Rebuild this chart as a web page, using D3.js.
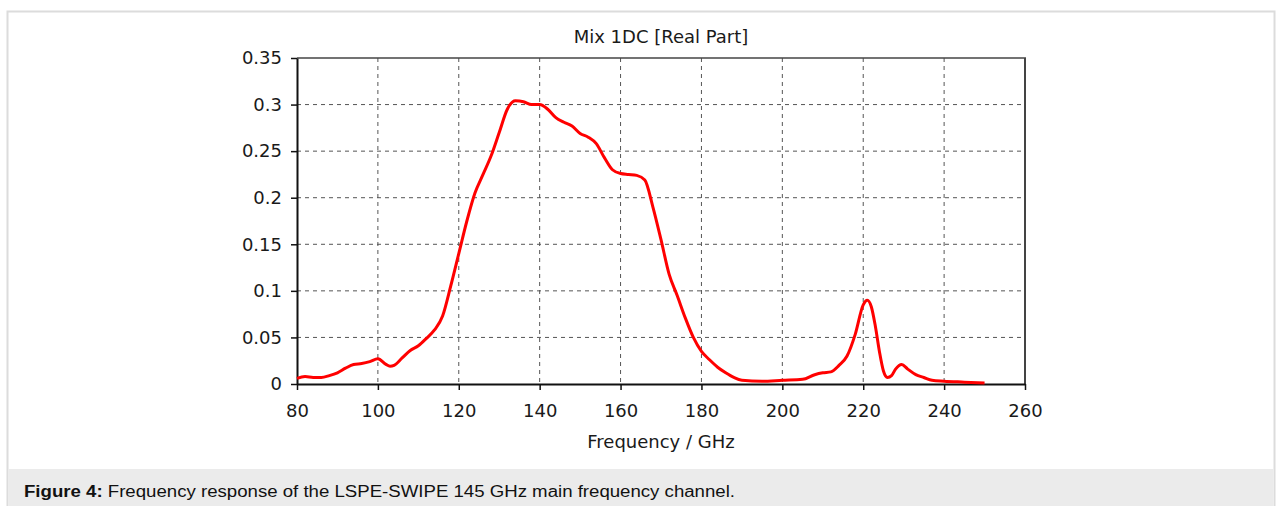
<!DOCTYPE html>
<html>
<head>
<meta charset="utf-8">
<script src="https://cdn.jsdelivr.net/npm/d3@7"></script>
<style>
  body { margin: 0; background: #fff; }
  svg { display: block; }
</style>
</head>
<body>
<script>
// chart data
var freq = [80, 82, 84, 86, 88, 90, 92, 94, 96, 98, 100, 102, 103, 104, 106, 108, 110, 112, 114, 116,
	118, 120, 122, 124, 126, 128, 130, 132, 134, 136, 138, 140, 142, 144, 146, 148, 150, 152, 154, 156,
	158, 160, 162, 164, 166, 168, 170, 172, 174, 176, 178, 180, 182, 184, 186, 188, 190, 195, 200, 205,
	208, 210, 212, 214, 216, 218, 220, 221, 222, 223, 224, 225, 226, 227, 228, 229.5, 231, 233, 235, 237,
	240, 245, 250];
var response = [0.006, 0.008, 0.007, 0.007, 0.009, 0.012, 0.017, 0.021, 0.022, 0.024, 0.027, 0.021, 0.019, 0.020, 0.028, 0.036, 0.041, 0.049, 0.058, 0.073,
	0.105, 0.140, 0.175, 0.205, 0.225, 0.245, 0.270, 0.295, 0.304, 0.303, 0.300, 0.300, 0.295, 0.286, 0.281, 0.277, 0.269, 0.265, 0.258, 0.243,
	0.230, 0.226, 0.225, 0.224, 0.219, 0.190, 0.155, 0.118, 0.095, 0.071, 0.050, 0.035, 0.026, 0.018, 0.012, 0.007, 0.004, 0.003, 0.004, 0.005,
	0.010, 0.012, 0.013, 0.020, 0.030, 0.053, 0.085, 0.090, 0.083, 0.062, 0.035, 0.014, 0.007, 0.009, 0.016, 0.021, 0.016, 0.010, 0.007, 0.004,
	0.003, 0.002, 0.001];
var xTicks = [80, 100, 120, 140, 160, 180, 200, 220, 240, 260];
var yTicks = [0, 0.05, 0.1, 0.15, 0.2, 0.25, 0.3, 0.35];
var yTickLabels = ["0", "0.05", "0.1", "0.15", "0.2", "0.25", "0.3", "0.35"];
var title = "Mix 1DC [Real Part]";
var xTitle = "Frequency / GHz";

window.onload = function(){
	var W = 1276, H = 506;
	// plot box edges
	var pLeft = 297, pRight = 1025, pTop = 58, pBottom = 384;
	var tickFont = "'DejaVu Sans', Verdana, sans-serif";

	var svg = d3.select("body").append("svg")
		.attr("width", W)
		.attr("height", H);

	// outer frame and caption band
	svg.append("rect")
		.attr("x", 7.5).attr("y", 11.5)
		.attr("width", 1267).attr("height", H)
		.attr("fill", "#fff")
		.attr("stroke", "#dcdcdc")
		.attr("stroke-width", 2);
	svg.append("rect")
		.attr("x", 8.5).attr("y", 469)
		.attr("width", 1265).attr("height", H - 469)
		.attr("fill", "#ebebeb");

	var caption = svg.append("text")
		.attr("x", 24).attr("y", 497)
		.attr("textLength", 711)
		.attr("lengthAdjust", "spacingAndGlyphs")
		.style("font-family", "'Liberation Sans', Arial, sans-serif")
		.style("font-size", "16px")
		.attr("fill", "#111");
	caption.append("tspan").style("font-weight", "bold").text("Figure 4:");
	caption.append("tspan").text(" Frequency response of the LSPE-SWIPE 145 GHz main frequency channel.");

	// scales
	var x = d3.scaleLinear().domain([80, 260]).range([pLeft, pRight]);
	var y = d3.scaleLinear().domain([0, 0.35]).range([pBottom, pTop]);

	// dashed grid
	svg.append("g").selectAll("line")
		.data(xTicks.slice(1, -1))
		.enter().append("line")
		.attr("x1", function(d){ return x(d); })
		.attr("x2", function(d){ return x(d); })
		.attr("y1", pTop).attr("y2", pBottom)
		.attr("stroke", "#555")
		.attr("stroke-dasharray", "4,4");
	svg.append("g").selectAll("line")
		.data(yTicks.slice(1, -1))
		.enter().append("line")
		.attr("y1", function(d){ return y(d); })
		.attr("y2", function(d){ return y(d); })
		.attr("x1", pLeft).attr("x2", pRight)
		.attr("stroke", "#555")
		.attr("stroke-dasharray", "4,4");

	// top and right frame
	svg.append("line")
		.attr("x1", pLeft).attr("x2", pRight + 1)
		.attr("y1", pTop).attr("y2", pTop)
		.attr("stroke", "#444").attr("stroke-width", 1.5);
	svg.append("line")
		.attr("x1", pRight).attr("x2", pRight)
		.attr("y1", pTop).attr("y2", pBottom)
		.attr("stroke", "#444").attr("stroke-width", 2);

	// axes
	var xAxis = svg.append("g")
		.attr("transform", "translate(0," + pBottom + ")")
		.call(d3.axisBottom(x).tickValues(xTicks).tickFormat(d3.format("d"))
			.tickSizeInner(6).tickSizeOuter(0).tickPadding(14));
	var yAxis = svg.append("g")
		.attr("transform", "translate(" + pLeft + ",0)")
		.call(d3.axisLeft(y).tickValues(yTicks)
			.tickFormat(function(d, i){ return yTickLabels[i]; })
			.tickSizeInner(6).tickSizeOuter(0).tickPadding(9));

	[xAxis, yAxis].forEach(function(g){
		g.select(".domain").attr("stroke", "#111").attr("stroke-width", 2);
		g.selectAll(".tick line").attr("stroke", "#111").attr("stroke-width", 1.5);
		g.selectAll(".tick text")
			.attr("fill", "#1a1a1a")
			.style("font-family", tickFont)
			.style("font-size", "18px");
	});

	// response curve
	var line = d3.line()
		.x(function(d){ return x(d[0]); })
		.y(function(d){ return y(d[1]); })
		.curve(d3.curveMonotoneX);
	svg.append("path")
		.datum(d3.zip(freq, response))
		.attr("d", line)
		.attr("fill", "none")
		.attr("stroke", "#ff0000")
		.attr("stroke-width", 3)
		.attr("stroke-linejoin", "round");

	// titles
	svg.append("text")
		.attr("x", (pLeft + pRight) / 2).attr("y", 43)
		.attr("text-anchor", "middle")
		.style("font-family", tickFont)
		.style("font-size", "18px")
		.attr("fill", "#1a1a1a")
		.text(title);
	svg.append("text")
		.attr("x", (pLeft + pRight) / 2).attr("y", 448)
		.attr("text-anchor", "middle")
		.style("font-family", tickFont)
		.style("font-size", "18px")
		.attr("fill", "#1a1a1a")
		.text(xTitle);
};
</script>
</body>
</html>
